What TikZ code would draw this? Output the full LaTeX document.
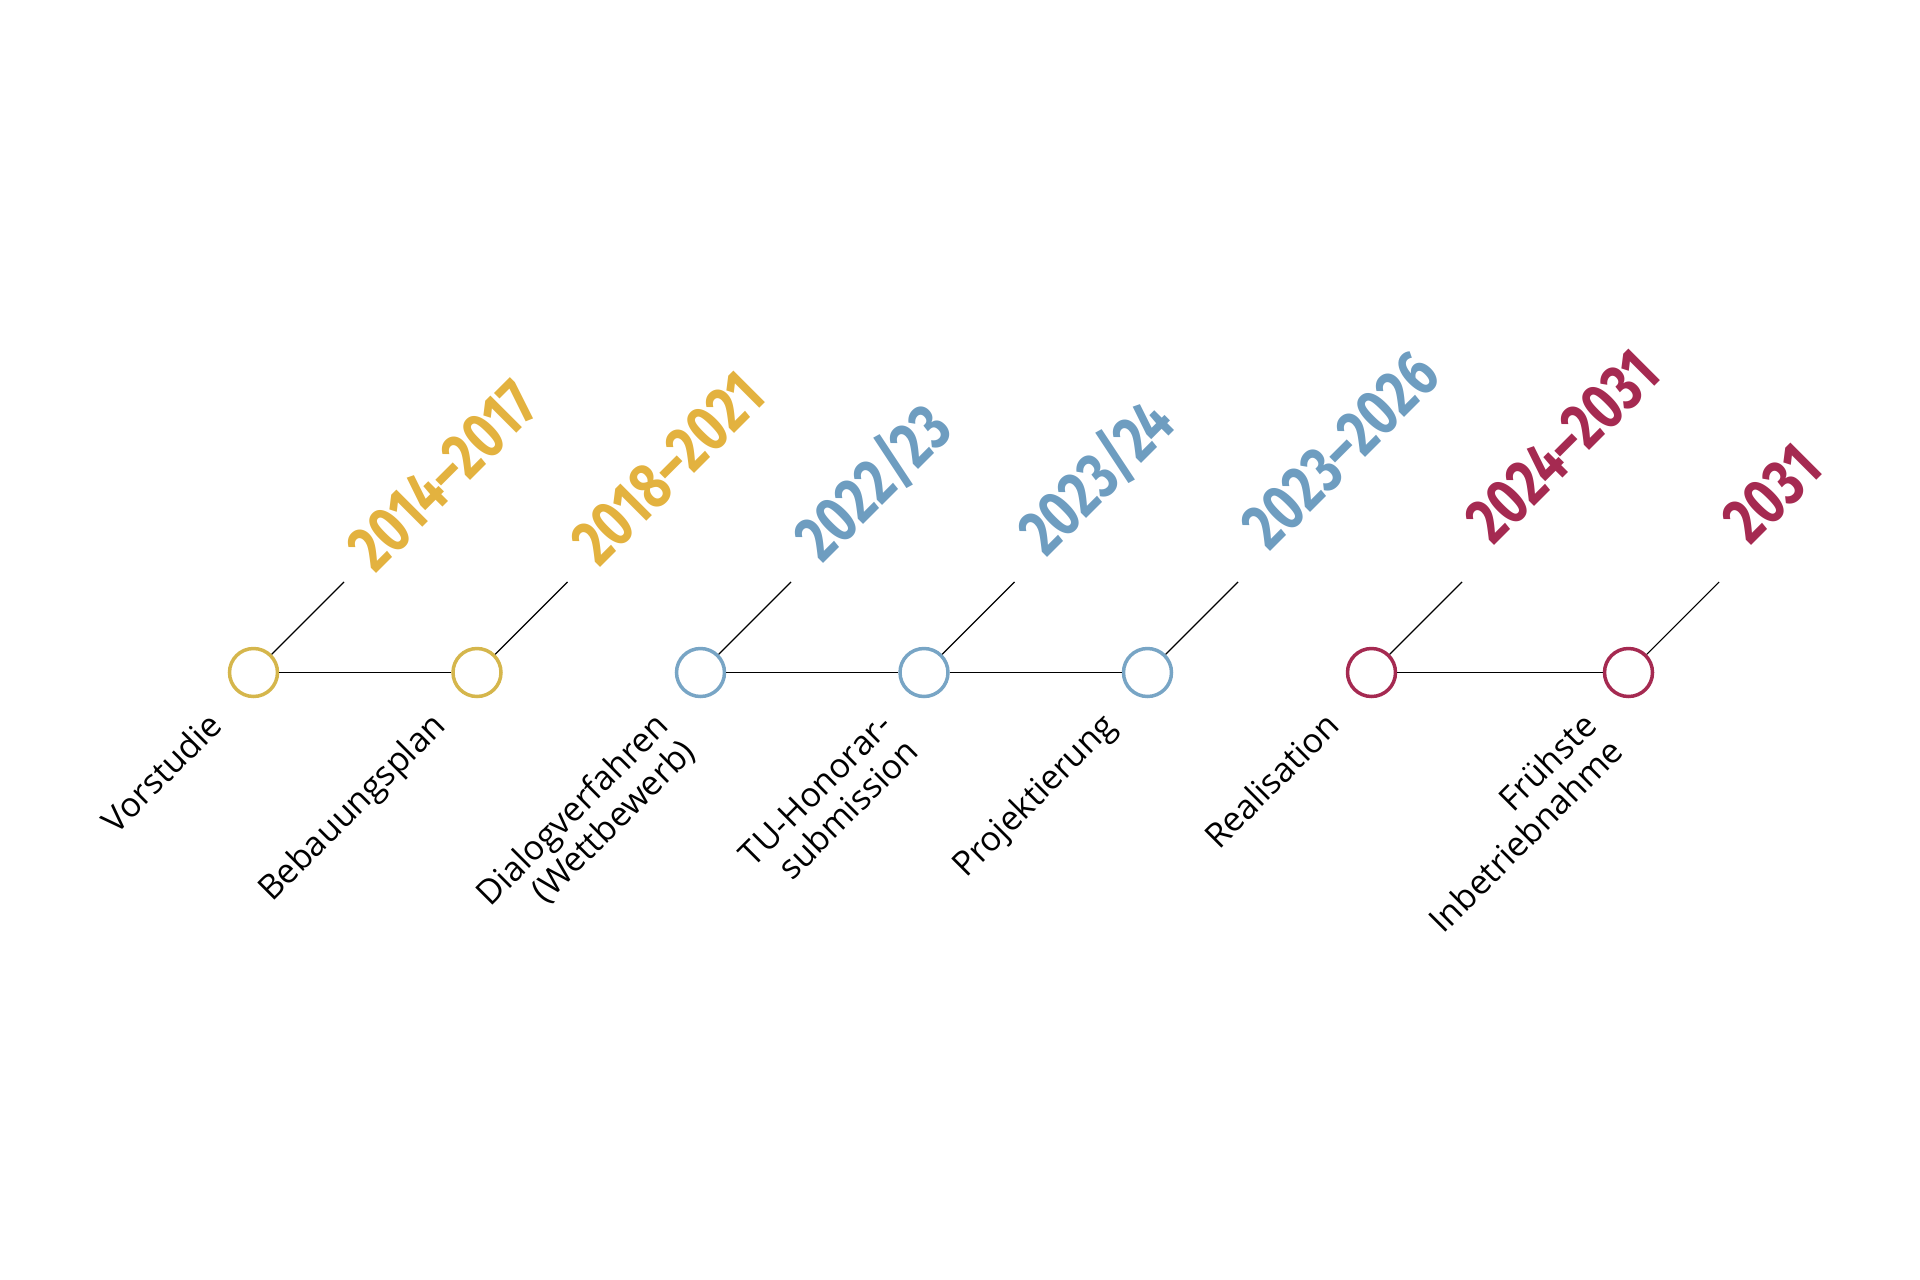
\documentclass[tikz,border=0pt]{standalone}
\usepackage{fontspec}
\setmainfont{Open Sans}
\newfontfamily\yearfont[FakeStretch=0.78]{Fira Sans}
\usetikzlibrary{calc}
\definecolor{ycirc}{HTML}{D5B64C}
\definecolor{ytext}{HTML}{E3B23F}
\definecolor{bcirc}{HTML}{78A5C5}
\definecolor{btext}{HTML}{6E9DC0}
\definecolor{rcirc}{HTML}{A52A51}
\definecolor{rtext}{HTML}{A52A51}
\begin{document}
\begin{tikzpicture}[x=1pt,y=-1pt,
  dot/.style={circle, draw=#1, line width=3.5pt, minimum size=48pt, inner sep=0pt},
  link/.style={black, line width=1.3pt},
  stem/.style={black, line width=1.1pt},
  year/.style={rotate=45, anchor=base west, inner sep=0pt, text=#1,
    font=\yearfont\bfseries\fontsize{66}{66}\selectfont},
  lab/.style={rotate=45, anchor=base east, inner sep=0pt, text=black,
    font=\fontsize{34}{37}\selectfont}]
\useasboundingbox (0,0) rectangle (1920,1280);

% circles
\node[dot=ycirc] (c1) at (253.5,672.5) {};
\node[dot=ycirc] (c2) at (477,672.5) {};
\node[dot=bcirc] (c3) at (700.5,672.5) {};
\node[dot=bcirc] (c4) at (924,672.5) {};
\node[dot=bcirc] (c5) at (1147.5,672.5) {};
\node[dot=rcirc] (c6) at (1371.5,672.5) {};
\node[dot=rcirc] (c7) at (1628.5,672.5) {};

% horizontal links
\draw[link] (c1) -- (c2);
\draw[link] (c3) -- (c4);
\draw[link] (c4) -- (c5);
\draw[link] (c6) -- (c7);

% diagonal stems
\foreach \i in {1,...,7}{
  \coordinate (t\i) at ($(c\i)+(90.6,-90.6)$);
  \draw[stem] (c\i.45) -- (t\i);
}

% years
\node[year=ytext] (y1) at ($(c1)+(122,-97.5)$) {2014–2017};
\node[year=ytext] (y2) at ($(c2)+(122,-103.5)$) {2018–2021};
\node[year=btext] (y3) at ($(c3)+(122,-107.5)$) {2022/23};
\node[year=btext] (y4) at ($(c4)+(122,-113.5)$) {2023/24};
\node[year=btext] (y5) at ($(c5)+(122,-119.5)$) {2023–2026};
\node[year=rtext] (y6) at ($(c6)+(122,-125.5)$) {2024–2031};
\node[year=rtext] (y7) at ($(c7)+(122,-125.5)$) {2031};

% labels
\node[lab] (l1) at ($(c1)+(-29.7,55.2)$) {Vorstudie};
\node[lab] (l2) at ($(c2)+(-29.7,55.2)$) {Bebauungsplan};
\node[lab] (l3a) at ($(c3)+(-29.7,55.2)$) {Dialogverfahren};
\node[lab] (l3b) at ($(c3)+(-3.5,81.3)$) {(Wettbewerb)};
\node[lab] (l4a) at ($(c4)+(-29.7,55.2)$) {TU-Honorar-};
\node[lab] (l4b) at ($(c4)+(-3.5,81.3)$) {submission};
\node[lab] (l5) at ($(c5)+(-29.7,55.2)$) {Projektierung};
\node[lab] (l6) at ($(c6)+(-29.7,55.2)$) {Realisation};
\node[lab] (l7a) at ($(c7)+(-29.7,55.2)$) {Frühste};
\node[lab] (l7b) at ($(c7)+(-3.5,81.3)$) {Inbetriebnahme};
\end{tikzpicture}
\end{document}
